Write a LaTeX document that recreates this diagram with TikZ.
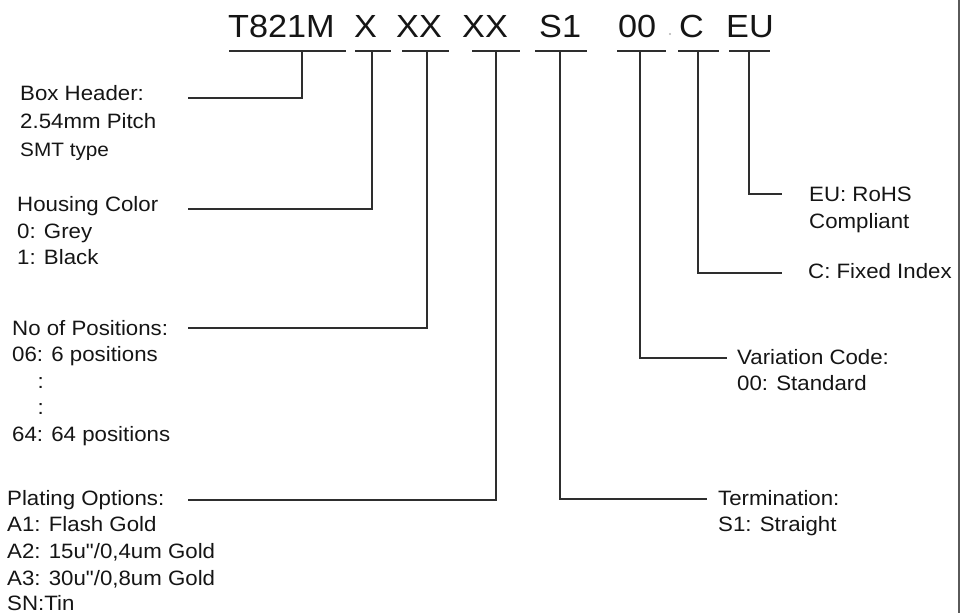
\documentclass[tikz,border=0pt]{standalone}
\usepackage{fontspec}
\setmainfont{Liberation Sans}[FakeStretch=1.07, Ligatures=TeXOff]
\definecolor{txt}{HTML}{151515}
\definecolor{ln}{HTML}{2E2E2E}
\definecolor{frame}{HTML}{5A5A5A}
\begin{document}
\begin{tikzpicture}[x=1pt,y=-1pt,
  code/.style={anchor=base west, inner sep=0pt, text=txt, font=\fontsize{32}{38}\selectfont},
  lab/.style={anchor=base west, inner sep=0pt, text=txt, font=\fontsize{20.8}{26}\selectfont},
  labsm/.style={lab, font=\fontsize{19.4}{24}\selectfont},
  conn/.style={draw=ln, line width=2pt},
  uline/.style={draw=ln, line width=2pt}]
\useasboundingbox (0,0) rectangle (962,613);
% right frame line
\draw[draw=frame, line width=2pt] (959,0) -- (959,613);
% code segments
\node[code] (c1) at (228,37) {T821M};
\node[code] (c2) at (354,37) {X};
\node[code] (c3) at (396,37) {XX};
\node[code] (c4) at (462,37) {XX};
\node[code] (c5) at (539,37) {S1};
\node[code] (c6) at (618,37) {00};
\node[code] (c7) at (679,37) {C};
\node[code] (c8) at (726,37) {EU};
\fill[gray!60] (670,34) circle (1.1);
% underlines
\draw[uline] (229,51) -- (346,51);
\draw[uline] (355,51) -- (391,51);
\draw[uline] (402,51) -- (449,51);
\draw[uline] (472,51) -- (520,51);
\draw[uline] (535,51) -- (587,51);
\draw[uline] (617,51) -- (666,51);
\draw[uline] (678,51) -- (719,51);
\draw[uline] (729,51) -- (770,51);
% drop points
\coordinate (d1) at (302,51);
\coordinate (d2) at (372,51);
\coordinate (d3) at (427,51);
\coordinate (d4) at (496,51);
\coordinate (d5) at (560,51);
\coordinate (d6) at (640,51);
\coordinate (d7) at (698,51);
\coordinate (d8) at (749,51);
% connector ends
\coordinate (e1) at (188,98);
\coordinate (e2) at (188,209);
\coordinate (e3) at (188,328);
\coordinate (e4) at (188,500);
\coordinate (e5) at (707,499);
\coordinate (e6) at (727,358);
\coordinate (e7) at (782,273);
\coordinate (e8) at (782,194);
% labels
\node[lab] (l1a) at (20,100.7) {Box Header:};
\node[lab] (l1b) at (20,128.3) {2.54mm Pitch};
\node[labsm] (l1c) at (20,156) {SMT type};
\node[lab] (l2a) at (17,211.7) {Housing Color};
\node[lab] (l2b) at (17,238) {0: Grey};
\node[lab] (l2c) at (17,264.3) {1: Black};
\node[lab] (l3a) at (12,335) {No of Positions:};
\node[lab] (l3b) at (12,361.7) {06: 6 positions};
\node[lab] (l3c) at (37.5,388) {:};
\node[lab] (l3d) at (37.5,414.5) {:};
\node[lab] (l3e) at (12,441.7) {64: 64 positions};
\node[lab] (l4a) at (7,505) {Plating Options:};
\node[lab] (l4b) at (7,531.7) {A1: Flash Gold};
\node[lab] (l4c) at (7,558.3) {A2: 15u"/0,4um Gold};
\node[lab] (l4d) at (7,585) {A3: 30u"/0,8um Gold};
\node[lab] (l4e) at (7,610.5) {SN:Tin};
\node[lab] (l5a) at (718,505) {Termination:};
\node[lab] (l5b) at (718,531.7) {S1: Straight};
\node[lab] (l6a) at (737,364) {Variation Code:};
\node[lab] (l6b) at (737,390.7) {00: Standard};
\node[lab] (l7a) at (808,278.3) {C: Fixed Index};
\node[lab] (l8a) at (809,201.7) {EU: RoHS};
\node[lab] (l8b) at (809,228.3) {Compliant};
% connectors
\draw[conn] (d1) |- (e1);
\draw[conn] (d2) |- (e2);
\draw[conn] (d3) |- (e3);
\draw[conn] (d4) |- (e4);
\draw[conn] (d5) |- (e5);
\draw[conn] (d6) |- (e6);
\draw[conn] (d7) |- (e7);
\draw[conn] (d8) |- (e8);
\end{tikzpicture}
\end{document}
